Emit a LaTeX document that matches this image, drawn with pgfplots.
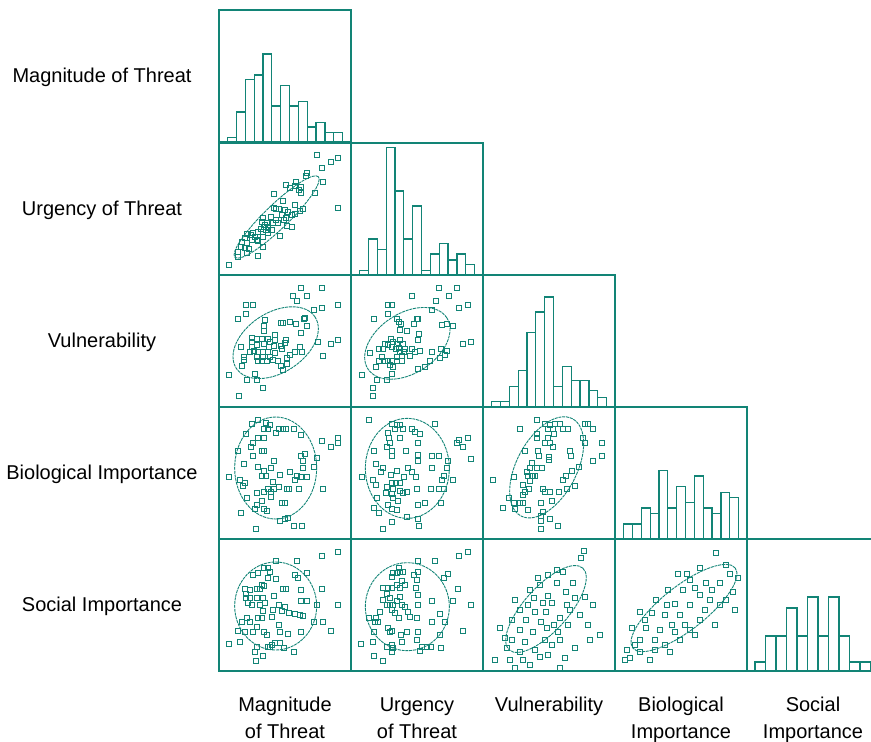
\documentclass[border=0pt]{standalone}
\usepackage{fontspec}
\setmainfont{Liberation Sans}
\usepackage{pgfplots}
\pgfplotsset{compat=1.18}
\definecolor{tl}{RGB}{18,132,118}

\pgfplotsset{
  cell/.style={scale only axis, width=132bp, height=132bp, anchor=north west,
    xtick=\empty, ytick=\empty, axis line style={draw=tl, line width=1.5bp}, clip=false},
  zc/.style={y dir=reverse},
  sc/.style={only marks, mark=square, mark size=2.5bp, tl, mark options={line width=0.9bp, fill=none}},
  hist/.style={ybar interval, draw=tl, fill=white, line width=1.2bp},
}
\tikzset{ell/.style={tl, line width=0.9bp, dash pattern=on 3pt off 0.8pt}}

\begin{document}
\begin{tikzpicture}[x=1bp,y=1bp]
\fontsize{20bp}{24bp}\selectfont

% ---- row 1
\begin{axis}[cell, at={(219bp,-10bp)}, xmin=0, xmax=132, ymin=0, ymax=132]
\addplot[hist] coordinates {(8.5,4.3) (17.4,30) (26.2,62.3) (35.1,67) (43.9,88) (52.8,36) (61.6,56.7) (70.5,36) (79.3,40.3) (88.2,15) (97.0,19.7) (105.9,9.3) (114.7,9.3) (123.6,0)};
\end{axis}

% ---- row 2
\begin{axis}[cell, zc, at={(219bp,-143bp)}, xmin=12, xmax=408, ymin=9, ymax=405]
\addplot[sc] coordinates {(307,45) (370,53) (347,67) (320,84) (277,98) (274,108) (325,125) (213,135) (244,125) (241,137) (258,140) (224,145) (251,150) (257,160) (301,160) (177,163) (204,182) (370,205) (178,203) (192,208) (209,210) (182,208) (240,196) (263,208) (255,212) (240,221) (232,225) (213,235) (145,235) (167,232) (184,240) (208,240) (157,248) (173,250) (190,250) (148,260) (160,262) (138,268) (153,270) (215,258) (230,262) (170,270) (115,280) (130,275) (108,285) (120,290) (95,283) (90,295) (145,290) (195,288) (160,280) (82,305) (97,310) (128,302) (77,322) (90,325) (103,328) (145,320) (70,335) (95,340) (130,348) (68,350) (43,375) (150,255) (140,245) (200,225) (220,215) (125,300) (110,300)};
\draw[ell] (axis cs:185,231) ellipse [x radius=58bp, y radius=12bp, rotate=44];
\end{axis}
\begin{axis}[cell, at={(351bp,-143bp)}, xmin=0, xmax=132, ymin=0, ymax=132]
\addplot[hist] coordinates {(8.5,4.3) (17.4,36) (26.2,25.7) (35.1,127.7) (43.9,84) (52.8,36) (61.6,69) (70.5,4.3) (79.3,21) (88.2,31.3) (97.0,15) (105.9,21) (114.7,10.3) (123.6,0)};
\end{axis}

% ---- row 3
\begin{axis}[cell, zc, at={(219bp,-275bp)}, xmin=12, xmax=408, ymin=9, ymax=405]
\addplot[sc] coordinates {(258,47) (321,47) (235,73) (275,73) (245,87) (92,100) (115,100) (370,100) (92,127) (70,140) (298,113) (322,108) (266,140) (150,143) (197,153) (205,153) (226,150) (242,157) (270,137) (276,163) (147,163) (147,178) (258,183) (180,190) (110,198) (127,200) (110,210) (140,200) (158,200) (165,210) (180,205) (213,205) (211,213) (370,203) (347,215) (308,210) (78,225) (110,225) (125,220) (148,215) (163,225) (178,222) (197,222) (130,240) (145,240) (160,240) (180,243) (200,232) (240,240) (255,225) (262,240) (88,255) (88,265) (127,255) (145,255) (165,255) (215,258) (225,250) (325,252) (128,268) (140,268) (155,268) (175,265) (190,268) (82,283) (198,283) (205,293) (43,310) (120,305) (97,325) (125,325) (145,347) (73,373) (215,275) (105,240) (118,236)};
\draw[ell] (axis cs:182,212) ellipse [x radius=47bp, y radius=30bp, rotate=33];
\end{axis}
\begin{axis}[cell, zc, at={(351bp,-275bp)}, xmin=3, xmax=399, ymin=9, ymax=405]
\addplot[sc] coordinates {(268,47) (322,47) (187,73) (296,73) (257,87) (113,100) (126,100) (354,100) (327,108) (247,113) (72,140) (113,127) (140,140) (148,150) (153,157) (200,140) (193,155) (205,140) (277,160) (290,155) (310,162) (150,175) (172,177) (207,187) (205,205) (122,200) (130,210) (105,215) (115,220) (150,205) (140,215) (160,215) (125,225) (138,230) (148,228) (165,230) (185,230) (100,230) (88,230) (60,243) (150,240) (163,240) (195,240) (210,238) (245,240) (272,230) (292,238) (340,215) (363,210) (140,255) (155,252) (180,253) (95,255) (105,268) (88,268) (113,268) (125,268) (140,268) (155,268) (270,258) (285,250) (240,267) (77,285) (120,280) (128,285) (205,292) (225,285) (125,305) (35,310) (80,325) (112,325) (70,347) (68,373)};
\draw[ell] (axis cs:172,214) ellipse [x radius=47bp, y radius=30bp, rotate=33];
\end{axis}
\begin{axis}[cell, at={(483bp,-275bp)}, xmin=0, xmax=132, ymin=0, ymax=132]
\addplot[hist] coordinates {(8.5,5.7) (17.4,5.7) (26.2,20.7) (35.1,36.7) (43.9,74.3) (52.8,95) (61.6,110) (70.5,20.7) (79.3,40.7) (88.2,26.7) (97.0,26.7) (105.9,16.3) (114.7,9.7) (123.6,0)};
\end{axis}

% ---- row 4
\begin{axis}[cell, zc, at={(219bp,-407bp)}, xmin=12, xmax=408, ymin=9, ymax=405]
\addplot[sc] coordinates {(128,47) (110,60) (153,57) (165,62) (148,75) (160,75) (192,75) (205,75) (213,75) (237,75) (258,93) (183,88) (93,90) (128,103) (147,103) (115,118) (108,130) (140,142) (148,142) (320,112) (370,103) (370,117) (347,130) (258,157) (270,150) (113,157) (70,142) (177,172) (265,170) (307,163) (88,180) (298,190) (128,190) (168,192) (147,200) (140,217) (153,215) (195,212) (225,205) (245,215) (265,192) (43,218) (75,228) (90,237) (83,245) (240,228) (257,220) (275,220) (253,255) (325,255) (160,255) (168,265) (178,255) (193,250) (215,255) (222,255) (147,265) (127,268) (97,283) (140,290) (127,303) (120,315) (147,315) (155,320) (200,298) (210,298) (78,327) (195,350) (210,345) (218,343) (238,367) (260,367) (123,375) (175,235) (168,280)};
\draw[ell] (axis cs:182,192) ellipse [x radius=41bp, y radius=51bp];
\end{axis}
\begin{axis}[cell, zc, at={(351bp,-407bp)}, xmin=3, xmax=399, ymin=9, ymax=405]
\addplot[sc] coordinates {(58,47) (125,60) (140,62) (150,62) (135,75) (158,75) (187,75) (195,85) (210,90) (255,60) (113,87) (118,103) (150,103) (120,118) (203,117) (110,130) (125,142) (127,155) (167,142) (203,152) (203,172) (245,157) (268,157) (327,107) (353,103) (320,118) (340,130) (363,165) (72,142) (78,180) (98,193) (93,203) (175,193) (185,205) (245,192) (292,193) (295,170) (35,218) (122,213) (142,202) (162,218) (198,218) (68,228) (78,242) (110,248) (125,237) (137,237) (150,237) (283,215) (275,228) (308,228) (130,255) (150,260) (172,265) (200,255) (242,255) (268,255) (283,255) (108,268) (125,270) (158,268) (80,283) (128,282) (145,290) (225,297) (272,297) (203,303) (113,303) (72,313) (125,315) (140,317) (88,328) (172,340) (203,345) (125,353) (98,375) (208,367)};
\draw[ell] (axis cs:172,193) ellipse [x radius=42bp, y radius=50bp];
\end{axis}
\begin{axis}[cell, zc, at={(483bp,-407bp)}, xmin=9, xmax=405, ymin=9, ymax=405]
\addplot[sc] coordinates {(170,47) (120,75) (195,60) (210,62) (225,60) (240,60) (205,75) (220,75) (250,75) (265,75) (315,60) (325,60) (340,75) (223,90) (170,90) (170,103) (205,103) (210,117) (195,117) (220,130) (310,103) (315,117) (367,117) (367,157) (340,172) (270,142) (272,155) (135,142) (175,142) (178,155) (207,160) (207,168) (155,178) (150,192) (172,192) (185,192) (298,190) (275,200) (258,215) (248,228) (140,203) (145,217) (155,215) (165,215) (103,218) (40,228) (130,242) (150,232) (148,255) (135,265) (130,272) (190,255) (195,265) (210,265) (237,265) (262,255) (285,247) (88,283) (120,298) (102,298) (130,298) (183,297) (217,290) (68,313) (105,315) (145,318) (190,325) (183,337) (183,350) (210,345) (183,375) (233,367) (160,217)};
\draw[ell] (axis cs:200,190) ellipse [x radius=55bp, y radius=30bp, rotate=62];
\end{axis}
\begin{axis}[cell, at={(615bp,-407bp)}, xmin=0, xmax=132, ymin=0, ymax=132]
\addplot[hist] coordinates {(8.5,15) (17.4,15) (26.2,31) (35.1,25.7) (43.9,68.3) (52.8,31) (61.6,52.3) (70.5,36.3) (79.3,63) (88.2,31) (97.0,25.7) (105.9,46.3) (114.7,41.7) (123.6,0)};
\end{axis}

% ---- row 5
\begin{axis}[cell, zc, at={(219bp,-539bp)}, xmin=12, xmax=408, ymin=12, ymax=408]
\addplot[sc] coordinates {(370,50) (322,63) (182,77) (245,77) (275,115) (148,100) (160,100) (165,110) (130,115) (115,120) (240,120) (248,130) (158,128) (182,133) (140,150) (148,152) (90,162) (105,165) (125,163) (135,163) (205,162) (213,162) (258,165) (320,162) (93,178) (177,182) (92,190) (105,190) (125,190) (145,190) (258,197) (275,197) (100,205) (110,210) (135,210) (150,205) (192,210) (210,215) (307,210) (370,210) (175,225) (145,228) (200,228) (222,235) (240,237) (255,240) (263,243) (170,245) (128,250) (97,250) (80,260) (105,260) (140,250) (298,260) (325,260) (125,275) (192,270) (113,290) (90,290) (70,287) (148,290) (155,300) (195,292) (220,298) (258,292) (347,287) (43,327) (75,322) (125,335) (160,335) (170,330) (180,325) (195,325) (207,340) (120,350) (237,350) (145,362) (123,377) (165,335)};
\draw[ell] (axis cs:182,213) ellipse [x radius=41bp, y radius=44bp];
\end{axis}
\begin{axis}[cell, zc, at={(351bp,-539bp)}, xmin=3, xmax=399, ymin=12, ymax=408]
\addplot[sc] coordinates {(353,50) (327,63) (205,77) (255,77) (148,100) (128,115) (140,115) (150,110) (160,110) (192,120) (203,110) (295,118) (283,128) (125,125) (155,138) (200,135) (165,150) (140,150) (150,160) (198,160) (205,180) (100,160) (113,160) (127,160) (112,178) (120,190) (150,185) (100,195) (110,210) (120,210) (130,210) (142,198) (155,210) (165,215) (175,230) (125,225) (135,235) (180,245) (203,210) (247,197) (310,197) (363,210) (323,162) (90,230) (58,250) (77,250) (85,262) (75,262) (148,250) (200,250) (270,237) (285,260) (245,262) (113,278) (120,290) (125,287) (72,290) (205,292) (170,292) (152,300) (270,300) (340,287) (33,327) (68,322) (110,335) (125,330) (130,340) (157,322) (200,315) (215,337) (230,337) (242,337) (272,340) (125,350) (210,348) (72,362) (98,377)};
\draw[ell] (axis cs:172,215) ellipse [x radius=42bp, y radius=44bp];
\end{axis}
\begin{axis}[cell, zc, at={(483bp,-539bp)}, xmin=483, xmax=615, ymin=539, ymax=671]
\addplot[sc] coordinates {(584,551) (581,558) (563,572) (548,575) (557,583) (573,583) (540,585) (530,590) (566,592) (548,596) (534,598) (552,603) (575,598) (593,605) (520,610) (535,612) (546,612) (560,618) (580,615) (512,620) (526,620) (541,622) (554,625) (568,625) (500,628) (520,630) (533,632) (512,640) (525,642) (545,640) (560,640) (588,625) (600,635) (507,648) (520,652) (535,650) (552,645) (565,658) (495,660) (510,660) (523,660) (540,657) (530,665) (560,668) (575,648) (547,628) (528,605) (557,570) (570,610) (515,600) (538,578) (567,605) (590,640) (505,638) (548,655) (515,668) (585,597) (543,603) (558,632)};
\draw[ell] (axis cs:546,609) ellipse [x radius=55bp, y radius=22bp, rotate=48];
\end{axis}
\begin{axis}[cell, zc, at={(615bp,-539bp)}, xmin=615, xmax=747, ymin=539, ymax=671]
\addplot[sc] coordinates {(716,553) (726,565) (700,568) (687,574) (678,574) (730,574) (720,583) (706,583) (695,588) (683,590) (668,590) (733,592) (700,595) (710,600) (656,600) (675,604) (690,605) (720,605) (726,600) (640,612) (652,613) (665,615) (680,615) (700,620) (715,625) (735,610) (632,628) (646,628) (660,630) (675,632) (690,630) (640,640) (655,640) (665,645) (680,640) (627,650) (640,652) (655,650) (670,652) (630,658) (625,660) (695,635) (645,620) (705,610) (685,625) (738,578) (690,580) (712,590) (650,660) (635,645) (667,605) (672,625)};
\draw[ell] (axis cs:684,608) ellipse [x radius=65bp, y radius=22bp, rotate=38];
\end{axis}
\begin{axis}[cell, at={(747bp,-539bp)}, xmin=0, xmax=132, ymin=0, ymax=132]
\addplot[hist] coordinates {(8,9) (18.5,35) (29,35) (39.5,63) (50,35) (60.5,74) (71,35) (81.5,74) (92,35) (102.5,9) (113,9) (123.5,0)};
\end{axis}

% ---- labels
\node[anchor=base] at (102,-83) {Magnitude of Threat};
\node[anchor=base] at (102,-215) {Urgency of Threat};
\node[anchor=base] at (102,-347) {Vulnerability};
\node[anchor=base] at (102,-479) {Biological Importance};
\node[anchor=base] at (102,-611) {Social Importance};

\node[anchor=base] at (285,-711) {Magnitude};
\node[anchor=base] at (285,-738) {of Threat};
\node[anchor=base] at (417,-711) {Urgency};
\node[anchor=base] at (417,-738) {of Threat};
\node[anchor=base] at (549,-711) {Vulnerability};
\node[anchor=base] at (681,-711) {Biological};
\node[anchor=base] at (681,-738) {Importance};
\node[anchor=base] at (813,-711) {Social};
\node[anchor=base] at (813,-738) {Importance};

\pgfresetboundingbox
\useasboundingbox (0,0) rectangle (871,-742);
\end{tikzpicture}
\end{document}
